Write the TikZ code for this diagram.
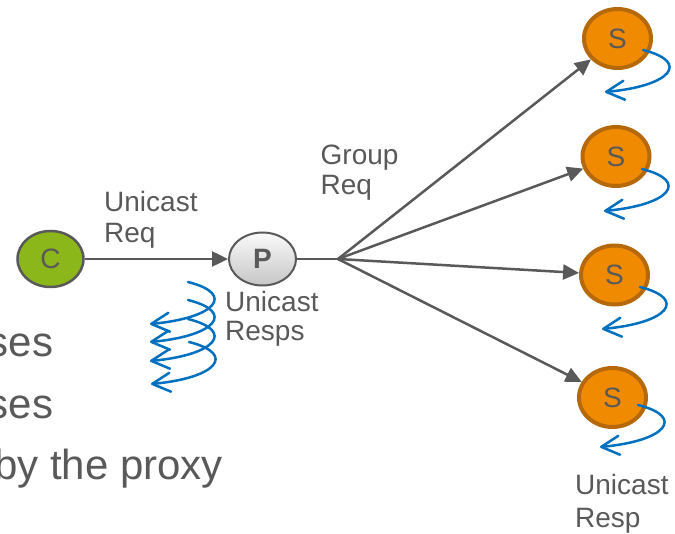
\documentclass[tikz,border=0pt]{standalone}
\usepackage{fontspec}
\setmainfont{Liberation Sans}
\usetikzlibrary{arrows.meta,shapes.geometric}

\definecolor{txtgray}{HTML}{595959}
\definecolor{linegray}{HTML}{595959}
\definecolor{respblue}{HTML}{0070C0}
\definecolor{cgreen}{HTML}{8CB71B}
\definecolor{sorange}{HTML}{F08A00}
\definecolor{sedge}{HTML}{B5690A}
\definecolor{ptop}{HTML}{FAFAFA}
\definecolor{pbot}{HTML}{C6C6C6}

\tikzset{
  lbl/.style={anchor=base west, inner sep=0pt, text=txtgray,
    font=\fontsize{28}{31}\selectfont},
  bigtxt/.style={anchor=base east, inner sep=0pt, text=txtgray,
    font=\fontsize{42}{50}\selectfont},
  client/.style={ellipse, draw=linegray, line width=2.5pt, fill=cgreen,
    minimum width=66pt, minimum height=56pt, inner sep=0pt, text=txtgray,
    font=\fontsize{28}{31}\selectfont},
  proxy/.style={ellipse, draw=linegray, line width=2pt, top color=ptop,
    bottom color=pbot, minimum width=67pt, minimum height=53pt, inner sep=0pt,
    text=txtgray, font=\fontsize{28}{31}\selectfont\bfseries},
  server/.style={ellipse, draw=sedge, line width=4pt, fill=sorange,
    minimum width=67pt, minimum height=59pt, inner sep=0pt, text=txtgray,
    font=\fontsize{28}{31}\selectfont},
  req/.style={draw=linegray, line width=2.5pt,
    -{Triangle[length=16pt,width=15pt]}},
  plainline/.style={draw=linegray, line width=2.5pt},
  resp/.style={draw=respblue, line width=2.5pt, line cap=round,
    -{Straight Barb[length=18pt,width=19pt,round]}},
  % curved response arrow, starting at the pic origin
  pics/respcurve/.style={code={
    \draw[resp] (0,0) .. controls (48,12) and (28,36) .. (-38,42);}}
}

\begin{document}
\begin{tikzpicture}[x=1pt,y=-1pt]
  \useasboundingbox (0,0) rectangle (675,534);
  \clip (0,0) rectangle (675,534);

  % client, proxy and servers
  \node[client] (c) at (50.5,259) {C};
  \node[proxy]  (p) at (262.5,259) {P};
  \node[server] (s1) at (617.5,38.5) {S};
  \node[server] (s2) at (616,156.5) {S};
  \node[server] (s3) at (614.5,275) {S};
  \node[server] (s4) at (612.5,397.5) {S};

  % request paths
  \coordinate (fork) at (338,259);
  \draw[req] (c) -- (p);
  \draw[plainline] (p) -- (fork);
  \foreach \s in {s1,s2,s3,s4} \draw[req] (fork) -- (\s);

  % responses from the servers
  \pic at (643,50) {respcurve};
  \pic at (642,169) {respcurve};
  \pic at (640,287) {respcurve};
  \pic at (638,405) {respcurve};

  % responses returned by the proxy
  \pic at (188,282) {respcurve};
  \pic at (188,300) {respcurve};
  \pic at (188,319) {respcurve};
  \pic at (189,342) {respcurve};

  % labels
  \node[lbl] (ureq1) at (104,212) {Unicast};
  \node[lbl] (ureq2) at (104,243) {Req};
  \node[lbl] (greq1) at (320.5,165) {Group};
  \node[lbl] (greq2) at (320.5,195) {Req};
  \node[lbl] (ursp1) at (225,312) {Unicast};
  \node[lbl] (ursp2) at (225,341) {Resps};
  \node[lbl] (sres1) at (575,495) {Unicast};
  \node[lbl] (sres2) at (575,527) {Resp};

  % text running in from the left
  \node[bigtxt] (t1) at (53.5,357) {ses};
  \node[bigtxt] (t2) at (53.5,419) {ses};
  \node[bigtxt] (t3) at (223,480) {by the proxy};
\end{tikzpicture}
\end{document}
